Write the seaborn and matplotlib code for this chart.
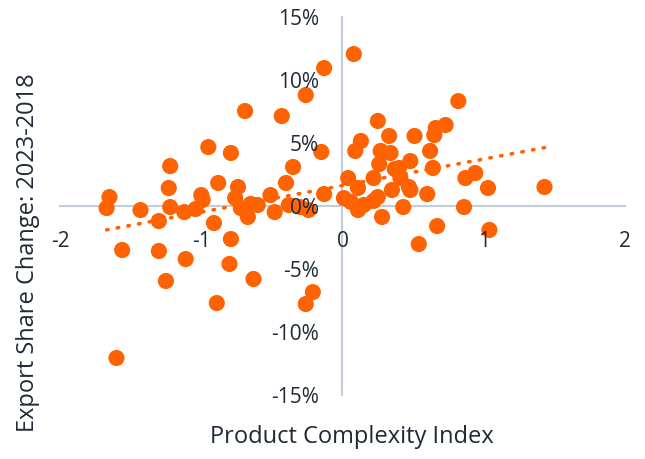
import numpy as np
import pandas as pd
import matplotlib
matplotlib.use("Agg")
import matplotlib.pyplot as plt
import seaborn as sns

# ===========================================================
# Data
# ===========================================================

pci = [
    -1.67, -1.65, -1.56, -1.60, -1.43, -1.30, -1.30, -1.25, -1.22, -1.23,
    -1.22, -1.12, -1.11, -1.04, -1.00, -0.99, -0.95, -0.91, -0.89, -0.88,
    -0.79, -0.79, -0.80, -0.74, -0.76, -0.69, -0.72, -0.67, -0.65, -0.60,
    -0.63, -0.51, -0.48, -0.43, -0.40, -0.35, -0.38, -0.30, -0.24, -0.26,
    -0.26, -0.21, -0.15, -0.13, -0.13,
    0.08, 0.01, 0.06, 0.11, 0.15, 0.22, 0.25, 0.28, 0.04, 0.09,
    0.13, 0.25, 0.22, 0.11, 0.27, 0.34, 0.26, 0.33, 0.35, 0.40,
    0.48, 0.43, 0.41, 0.47, 0.48, 0.51, 0.54, 0.60, 0.62, 0.64,
    0.65, 0.66, 0.73, 0.67, 0.82, 0.86, 0.87, 0.94, 1.03, 1.04,
    1.43, 0.37,
]

share_change = [
    -0.16, 0.71, -3.49, -12.06, -0.32, -1.19, -3.57, -5.95, 3.17, 1.43,
    -0.08, -0.48, -4.21, -0.24, 0.87, 0.48, 4.68, -1.35, -7.70, 1.83,
    4.21, -2.62, -4.60, 1.51, 0.63, 7.54, -0.16, -0.87, 0.16, 0.08,
    -5.79, 0.87, -0.48, 7.14, 1.83, 3.10, 0.08, -0.08, -0.32, 8.81,
    -7.78, -6.83, 4.29, 10.95, 0.95,
    12.06, 0.63, 0.32, -0.32, 0.08, 0.40, 0.71, -0.87, 2.22, 4.37,
    5.16, 6.75, 2.22, 1.43, 4.37, 4.21, 3.33, 5.56, 1.27, 3.02,
    3.57, -0.08, 2.22, 1.51, 1.27, 5.56, -3.02, 0.95, 4.37, 3.02,
    5.63, 6.19, 6.43, -1.59, 8.33, -0.08, 2.22, 2.62, 1.43, -1.90,
    1.51, 2.94,
]

x_ticks = [-2, -1, 0, 1, 2]
y_ticks = [-15, -10, -5, 0, 5, 10, 15]

df = pd.DataFrame({"pci": pci, "change": share_change})

orange = "#ff6200"
text_col = "#1f2937"
axis_col = "#c3ccd9"

# ===========================================================
# Figure
# ===========================================================

sns.set_style("white")
plt.rcParams["font.family"] = ["Open Sans", "DejaVu Sans"]

fig = plt.figure(figsize=(6.45, 4.59), dpi=100)
ax = fig.add_axes([0.093, 0.1394, 0.876, 0.8235])

sns.scatterplot(
    data=df, x="pci", y="change",
    color=orange, s=135, edgecolor="none", linewidth=0,
    ax=ax, zorder=2
)

sns.regplot(
    data=df, x="pci", y="change",
    scatter=False, ci=None, truncate=True, ax=ax,
    line_kws=dict(color=orange, lw=2.6, linestyle=(0, (0.4, 2.6)),
                  dash_capstyle="round", zorder=2)
)

ax.set_xlim(-2, 2)
ax.set_ylim(-15, 15)

# axes crossing at the origin
for side in ["top", "right"]:
    ax.spines[side].set_visible(False)
ax.spines["left"].set_position(("data", 0))
ax.spines["bottom"].set_position(("data", 0))
for side in ["left", "bottom"]:
    ax.spines[side].set_color(axis_col)
    ax.spines[side].set_linewidth(1.5)
    ax.spines[side].set_zorder(0.5)

ax.set_xticks(x_ticks)
ax.set_xticklabels([str(t) for t in x_ticks])
ax.set_yticks(y_ticks)
ax.set_yticklabels([f"{t}%" for t in y_ticks])
ax.tick_params(axis="both", length=0, labelsize=15, colors=text_col)
ax.tick_params(axis="x", pad=18)
ax.tick_params(axis="y", pad=17)
# tick labels sit on top of the dots
ax.xaxis.set_zorder(4)
ax.yaxis.set_zorder(4)

ax.set_xlabel("Product Complexity Index", fontsize=17, color=text_col)
ax.set_ylabel("Export Share Change: 2023-2018", fontsize=17, color=text_col)
ax.xaxis.set_label_coords(0.517, -0.08)
ax.yaxis.set_label_coords(-0.035, 0.378)

fig.savefig("out.png", dpi=100)
